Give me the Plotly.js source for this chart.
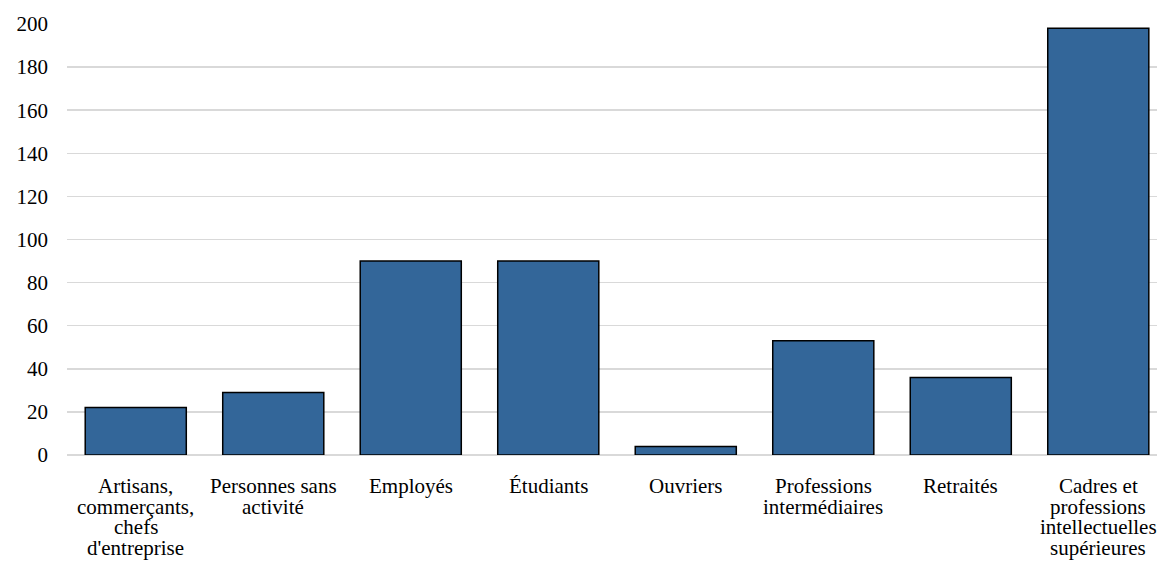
<!DOCTYPE html>
<html>
<head>
<meta charset="utf-8">
<script src="https://cdn.plot.ly/plotly-3.0.1.min.js"></script>
<style>
html,body{margin:0;padding:0;background:#fff;}
#chart{width:1157px;height:563px;}
</style>
</head>
<body>
<div id="chart"></div>
<script>
const categories = [
  "Artisans,<br>commerçants,<br>chefs<br>d'entreprise",
  "Personnes sans<br>activité",
  "Employés",
  "Étudiants",
  "Ouvriers",
  "Professions<br>intermédiaires",
  "Retraités",
  "Cadres et<br>professions<br>intellectuelles<br>supérieures"
];
const values = [22, 29, 90, 90, 4, 53, 36, 198];
const yTicks = [0, 20, 40, 60, 80, 100, 120, 140, 160, 180, 200];

const FONT = "Times New Roman, Liberation Serif, serif";
const xIdx = categories.map((c, i) => i);

const trace = {
  type: 'bar',
  x: xIdx,
  y: values,
  marker: {color: '#336699', line: {color: '#000000', width: 1.5}},
  hoverinfo: 'skip'
};

const annotations = [];
categories.forEach((lab, i) => {
  lab.split('<br>').forEach((line, j) => {
    annotations.push({
      x: i, xref: 'x', y: 0, yref: 'paper',
      text: line, showarrow: false,
      xanchor: 'center', yanchor: 'middle',
      yshift: -31 - j * 20.7,
      font: {family: FONT, size: 21, color: '#000'}
    });
  });
});

const layout = {
  width: 1157, height: 563,
  margin: {l: 67, r: 0, t: 24, b: 108, pad: 0},
  paper_bgcolor: '#fff', plot_bgcolor: '#fff',
  showlegend: false,
  bargap: 0.265,
  font: {family: FONT, size: 21, color: '#000'},
  xaxis: {
    type: 'linear',
    range: [-0.5, 7.427],
    showgrid: false, zeroline: false, showline: false,
    showticklabels: false, ticks: '', fixedrange: true
  },
  yaxis: {
    range: [0, 200],
    tickvals: yTicks,
    ticktext: yTicks.map(String),
    showgrid: true, gridcolor: '#d9d9d9', gridwidth: 1.5,
    zeroline: true, zerolinecolor: '#d9d9d9', zerolinewidth: 1.5,
    showline: false, ticks: '',
    ticklabelstandoff: 18,
    tickfont: {family: FONT, size: 21, color: '#000'},
    fixedrange: true
  },
  annotations: annotations
};

Plotly.newPlot('chart', [trace], layout, {displayModeBar: false, staticPlot: true});
</script>
</body>
</html>
